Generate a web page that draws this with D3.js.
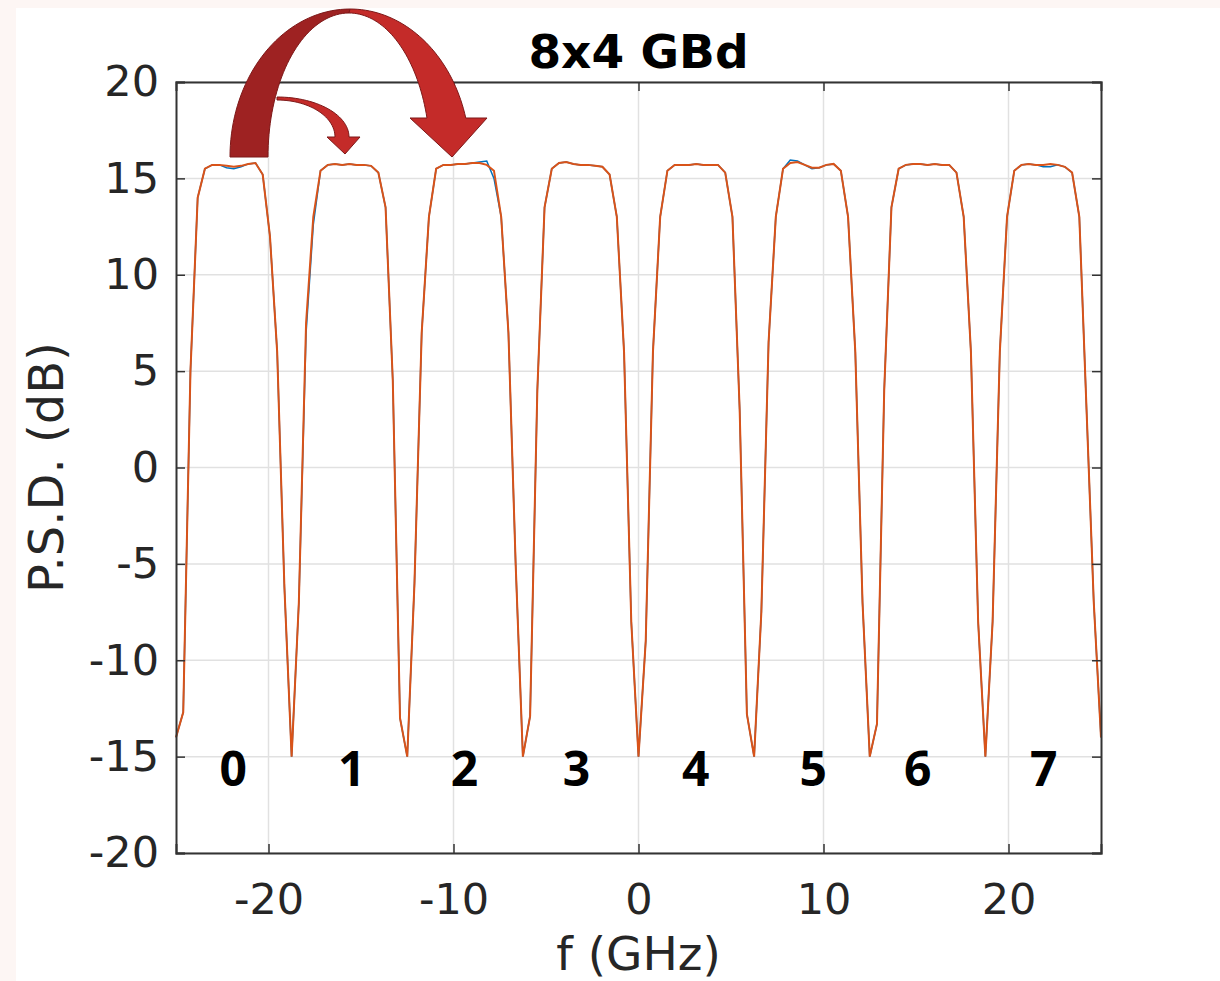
<!DOCTYPE html>
<html lang="en">
<head>
<meta charset="UTF-8">
<title>8x4 GBd</title>
<script src="https://cdn.jsdelivr.net/npm/d3@7/dist/d3.min.js"></script>
<style>
    body { margin: 0; background: #fdf6f4; }
    svg { display: block; }
</style>
</head>
<body>
<script>

    // frequency grid: 128 bins over 50 GHz (129 points incl. end)
    const fStart = -25, fStep = 50 / 128;

    // P.S.D. (dB), one value per bin
    const psdBlue = [
        -14.0, -12.7, 5.0, 14.0, 15.5, 15.7, 15.7, 15.55, 15.5, 15.6, 15.75, 15.8, 15.2, 12.0, 6.0, -6.2, -15.0,
        -7.0, 7.0, 12.6, 15.4, 15.7, 15.75, 15.7, 15.75, 15.7, 15.7, 15.65, 15.3, 13.5, 4.5, -13.0, -15.0,
        -6.0, 7.0, 13.0, 15.5, 15.7, 15.7, 15.75, 15.75, 15.8, 15.85, 15.9, 15.0, 13.0, 7.0, -5.0, -15.0,
        -12.9, 4.0, 13.5, 15.5, 15.8, 15.85, 15.75, 15.7, 15.7, 15.65, 15.6, 15.2, 13.0, 6.0, -8.0, -15.0,
        -9.0, 6.0, 13.0, 15.4, 15.7, 15.7, 15.7, 15.75, 15.7, 15.7, 15.7, 15.3, 13.0, 3.0, -12.8, -15.0,
        -7.5, 6.5, 13.0, 15.5, 15.95, 15.9, 15.7, 15.5, 15.55, 15.7, 15.75, 15.4, 13.0, 6.0, -7.0, -15.0,
        -13.3, 4.0, 13.5, 15.5, 15.7, 15.75, 15.75, 15.7, 15.75, 15.7, 15.7, 15.3, 13.0, 6.0, -8.0, -15.0,
        -8.0, 6.0, 13.0, 15.4, 15.7, 15.75, 15.7, 15.6, 15.6, 15.7, 15.6, 15.3, 13.0, 3.0, -7.0, -14.0
    ];
    const psdOrange = [
        -14.0, -12.7, 5.0, 14.0, 15.5, 15.7, 15.7, 15.65, 15.6, 15.65, 15.75, 15.8, 15.2, 12.0, 6.0, -6.2, -15.0,
        -7.0, 7.5, 13.0, 15.4, 15.7, 15.75, 15.7, 15.75, 15.7, 15.7, 15.65, 15.3, 13.5, 4.5, -13.0, -15.0,
        -6.0, 7.0, 13.0, 15.5, 15.7, 15.7, 15.75, 15.75, 15.8, 15.8, 15.7, 15.4, 13.0, 7.0, -5.0, -15.0,
        -12.9, 4.0, 13.5, 15.5, 15.8, 15.85, 15.75, 15.7, 15.7, 15.65, 15.6, 15.2, 13.0, 6.0, -8.0, -15.0,
        -9.0, 6.0, 13.0, 15.4, 15.7, 15.7, 15.7, 15.75, 15.7, 15.7, 15.7, 15.3, 13.0, 3.0, -12.8, -15.0,
        -7.5, 6.5, 13.0, 15.5, 15.8, 15.85, 15.7, 15.55, 15.55, 15.7, 15.75, 15.4, 13.0, 6.0, -7.0, -15.0,
        -13.3, 4.0, 13.5, 15.5, 15.7, 15.75, 15.75, 15.7, 15.75, 15.7, 15.7, 15.3, 13.0, 6.0, -8.0, -15.0,
        -8.0, 6.0, 13.0, 15.4, 15.7, 15.75, 15.7, 15.7, 15.75, 15.7, 15.6, 15.3, 13.0, 3.0, -7.0, -14.0
    ];

    const xTicks = [-20, -10, 0, 10, 20];
    const yTicks = [-20, -15, -10, -5, 0, 5, 10, 15, 20];
    const channelNames = ["0", "1", "2", "3", "4", "5", "6", "7"];
    const channelLabelF = [-21.9, -15.5, -9.4, -3.35, 3.1, 9.45, 15.1, 21.9];

    const width = 1220, height = 981;
    const margin = {top: 82, right: 119, bottom: 128, left: 176};

    const svg = d3.select("body").append("svg")
        .attr("width", width)
        .attr("height", height);

    // white figure area (pale border at top/left like the screenshot)
    svg.append("rect")
        .attr("x", 16).attr("y", 8)
        .attr("width", width - 16).attr("height", height - 8)
        .attr("fill", "#ffffff");

    const x = d3.scaleLinear().domain([-25, 25]).range([margin.left, width - margin.right]);
    const y = d3.scaleLinear().domain([-20, 20]).range([height - margin.bottom, margin.top]);

    // grid
    svg.append("g").selectAll("line").data(xTicks).join("line")
        .attr("x1", d => x(d)).attr("x2", d => x(d))
        .attr("y1", y(-20)).attr("y2", y(20))
        .attr("stroke", "#e1e1e1").attr("stroke-width", 1.5);
    svg.append("g").selectAll("line").data(yTicks).join("line")
        .attr("x1", x(-25)).attr("x2", x(25))
        .attr("y1", d => y(d)).attr("y2", d => y(d))
        .attr("stroke", "#e1e1e1").attr("stroke-width", 1.5);

    // curves
    const pts = arr => arr.map((v, i) => [fStart + i * fStep, v]);
    const line = d3.line().x(d => x(d[0])).y(d => y(d[1]));

    svg.append("path").datum(pts(psdBlue))
        .attr("d", line).attr("fill", "none")
        .attr("stroke", "#0072BD").attr("stroke-width", 1.5);
    svg.append("path").datum(pts(psdOrange))
        .attr("d", line).attr("fill", "none")
        .attr("stroke", "#D95319").attr("stroke-width", 2);

    // axes (ticks inward, on all four sides)
    const tickLen = 9;
    const axisColor = "#333333";
    const fontTick = "DejaVu Sans, sans-serif";
    const plain = d => String(d);   // hyphen minus, as in MATLAB

    const xAxis = d3.axisBottom(x).tickValues(xTicks).tickSize(-tickLen).tickPadding(30).tickFormat(plain);
    const yAxis = d3.axisLeft(y).tickValues(yTicks).tickSize(-tickLen).tickPadding(17).tickFormat(plain);

    const gx = svg.append("g").attr("transform", `translate(0,${y(-20)})`).call(xAxis);
    const gy = svg.append("g").attr("transform", `translate(${x(-25)},0)`).call(yAxis);
    const gxTop = svg.append("g").attr("transform", `translate(0,${y(20)})`)
        .call(d3.axisTop(x).tickValues(xTicks).tickSize(-tickLen).tickFormat(""));
    const gyRight = svg.append("g").attr("transform", `translate(${x(25)},0)`)
        .call(d3.axisRight(y).tickValues(yTicks).tickSize(-tickLen).tickFormat(""));

    [gx, gy, gxTop, gyRight].forEach(g => {
        g.select(".domain").attr("stroke", axisColor).attr("stroke-width", 2);
        g.selectAll(".tick line").attr("stroke", axisColor).attr("stroke-width", 1.5);
        g.selectAll(".tick text")
            .attr("fill", "#262626")
            .style("font-family", fontTick)
            .style("font-size", "43px");
    });
    gx.selectAll(".tick text").attr("dy", "0.71em");

    // axis labels
    svg.append("text")
        .attr("x", x(0)).attr("y", 970)
        .attr("text-anchor", "middle")
        .style("font-family", fontTick).style("font-size", "47px")
        .attr("fill", "#262626")
        .text("f (GHz)");

    svg.append("text")
        .attr("transform", `translate(63,${y(0)}) rotate(-90)`)
        .attr("text-anchor", "middle")
        .style("font-family", fontTick).style("font-size", "48px")
        .attr("fill", "#262626")
        .text("P.S.D. (dB)");

    // title
    svg.append("text")
        .attr("x", x(0)).attr("y", 68)
        .attr("text-anchor", "middle")
        .style("font-family", "DejaVu Sans, sans-serif")
        .style("font-weight", "bold").style("font-size", "47px")
        .attr("fill", "#000")
        .text("8x4 GBd");

    // channel numbers
    svg.append("g").selectAll("text").data(channelNames).join("text")
        .attr("x", (d, i) => x(channelLabelF[i]))
        .attr("y", 786)
        .attr("text-anchor", "middle")
        .style("font-family", "Open Sans, sans-serif")
        .style("font-weight", "bold").style("font-size", "48px")
        .attr("fill", "#000")
        .text(d => d);

    // curved arrows (annotation shapes, elliptical bands)
    function ellPt(cx, cy, rx, ry, t) {
        return [cx + rx * Math.cos(t), cy - ry * Math.sin(t)];
    }
    function band(outer, inner, t0, t1, n) {
        const a = d3.range(n + 1).map(k => ellPt(...outer, t0 + (t1 - t0) * k / n));
        const b = d3.range(n + 1).map(k => ellPt(...inner, t1 + (t0 - t1) * k / n));
        return a.concat(b);
    }
    const outerBig = [350, 157, 120, 148];
    const innerBig = [349, 157, 81, 144];
    const arrowStroke = "#7d1818";

    // back half (darker)
    svg.append("path")
        .attr("d", "M" + band(outerBig, innerBig, Math.PI, Math.PI / 2, 40).join("L") + "Z")
        .attr("fill", "#9e2222").attr("stroke", arrowStroke).attr("stroke-width", 1);

    // front half with head
    const tOut = Math.asin((157 - 118) / 148);
    const tIn = Math.asin((157 - 118) / 144);
    const frontOuter = d3.range(41).map(k => ellPt(...outerBig, Math.PI / 2 + (tOut - Math.PI / 2) * k / 40));
    const frontInner = d3.range(41).map(k => ellPt(...innerBig, tIn + (Math.PI / 2 - tIn) * k / 40));
    const bigHead = [[487, 118], [452, 157], [410, 118]];
    svg.append("path")
        .attr("d", "M" + frontOuter.concat(bigHead, frontInner).join("L") + "Z")
        .attr("fill", "#c42b29").attr("stroke", arrowStroke).attr("stroke-width", 1);

    // small arrow
    const outerSm = [277, 137, 72, 40];
    const innerSm = [277, 137, 58, 37];
    const smOuter = d3.range(31).map(k => ellPt(...outerSm, Math.PI / 2 - (Math.PI / 2) * k / 30));
    const smInner = d3.range(31).map(k => ellPt(...innerSm, (Math.PI / 2) * k / 30));
    const smHead = [[360, 137], [345, 154], [327, 137]];
    svg.append("path")
        .attr("d", "M" + smOuter.concat(smHead, smInner).join("L") + "Z")
        .attr("fill", "#c42b29").attr("stroke", arrowStroke).attr("stroke-width", 1);

</script>
</body>
</html>
